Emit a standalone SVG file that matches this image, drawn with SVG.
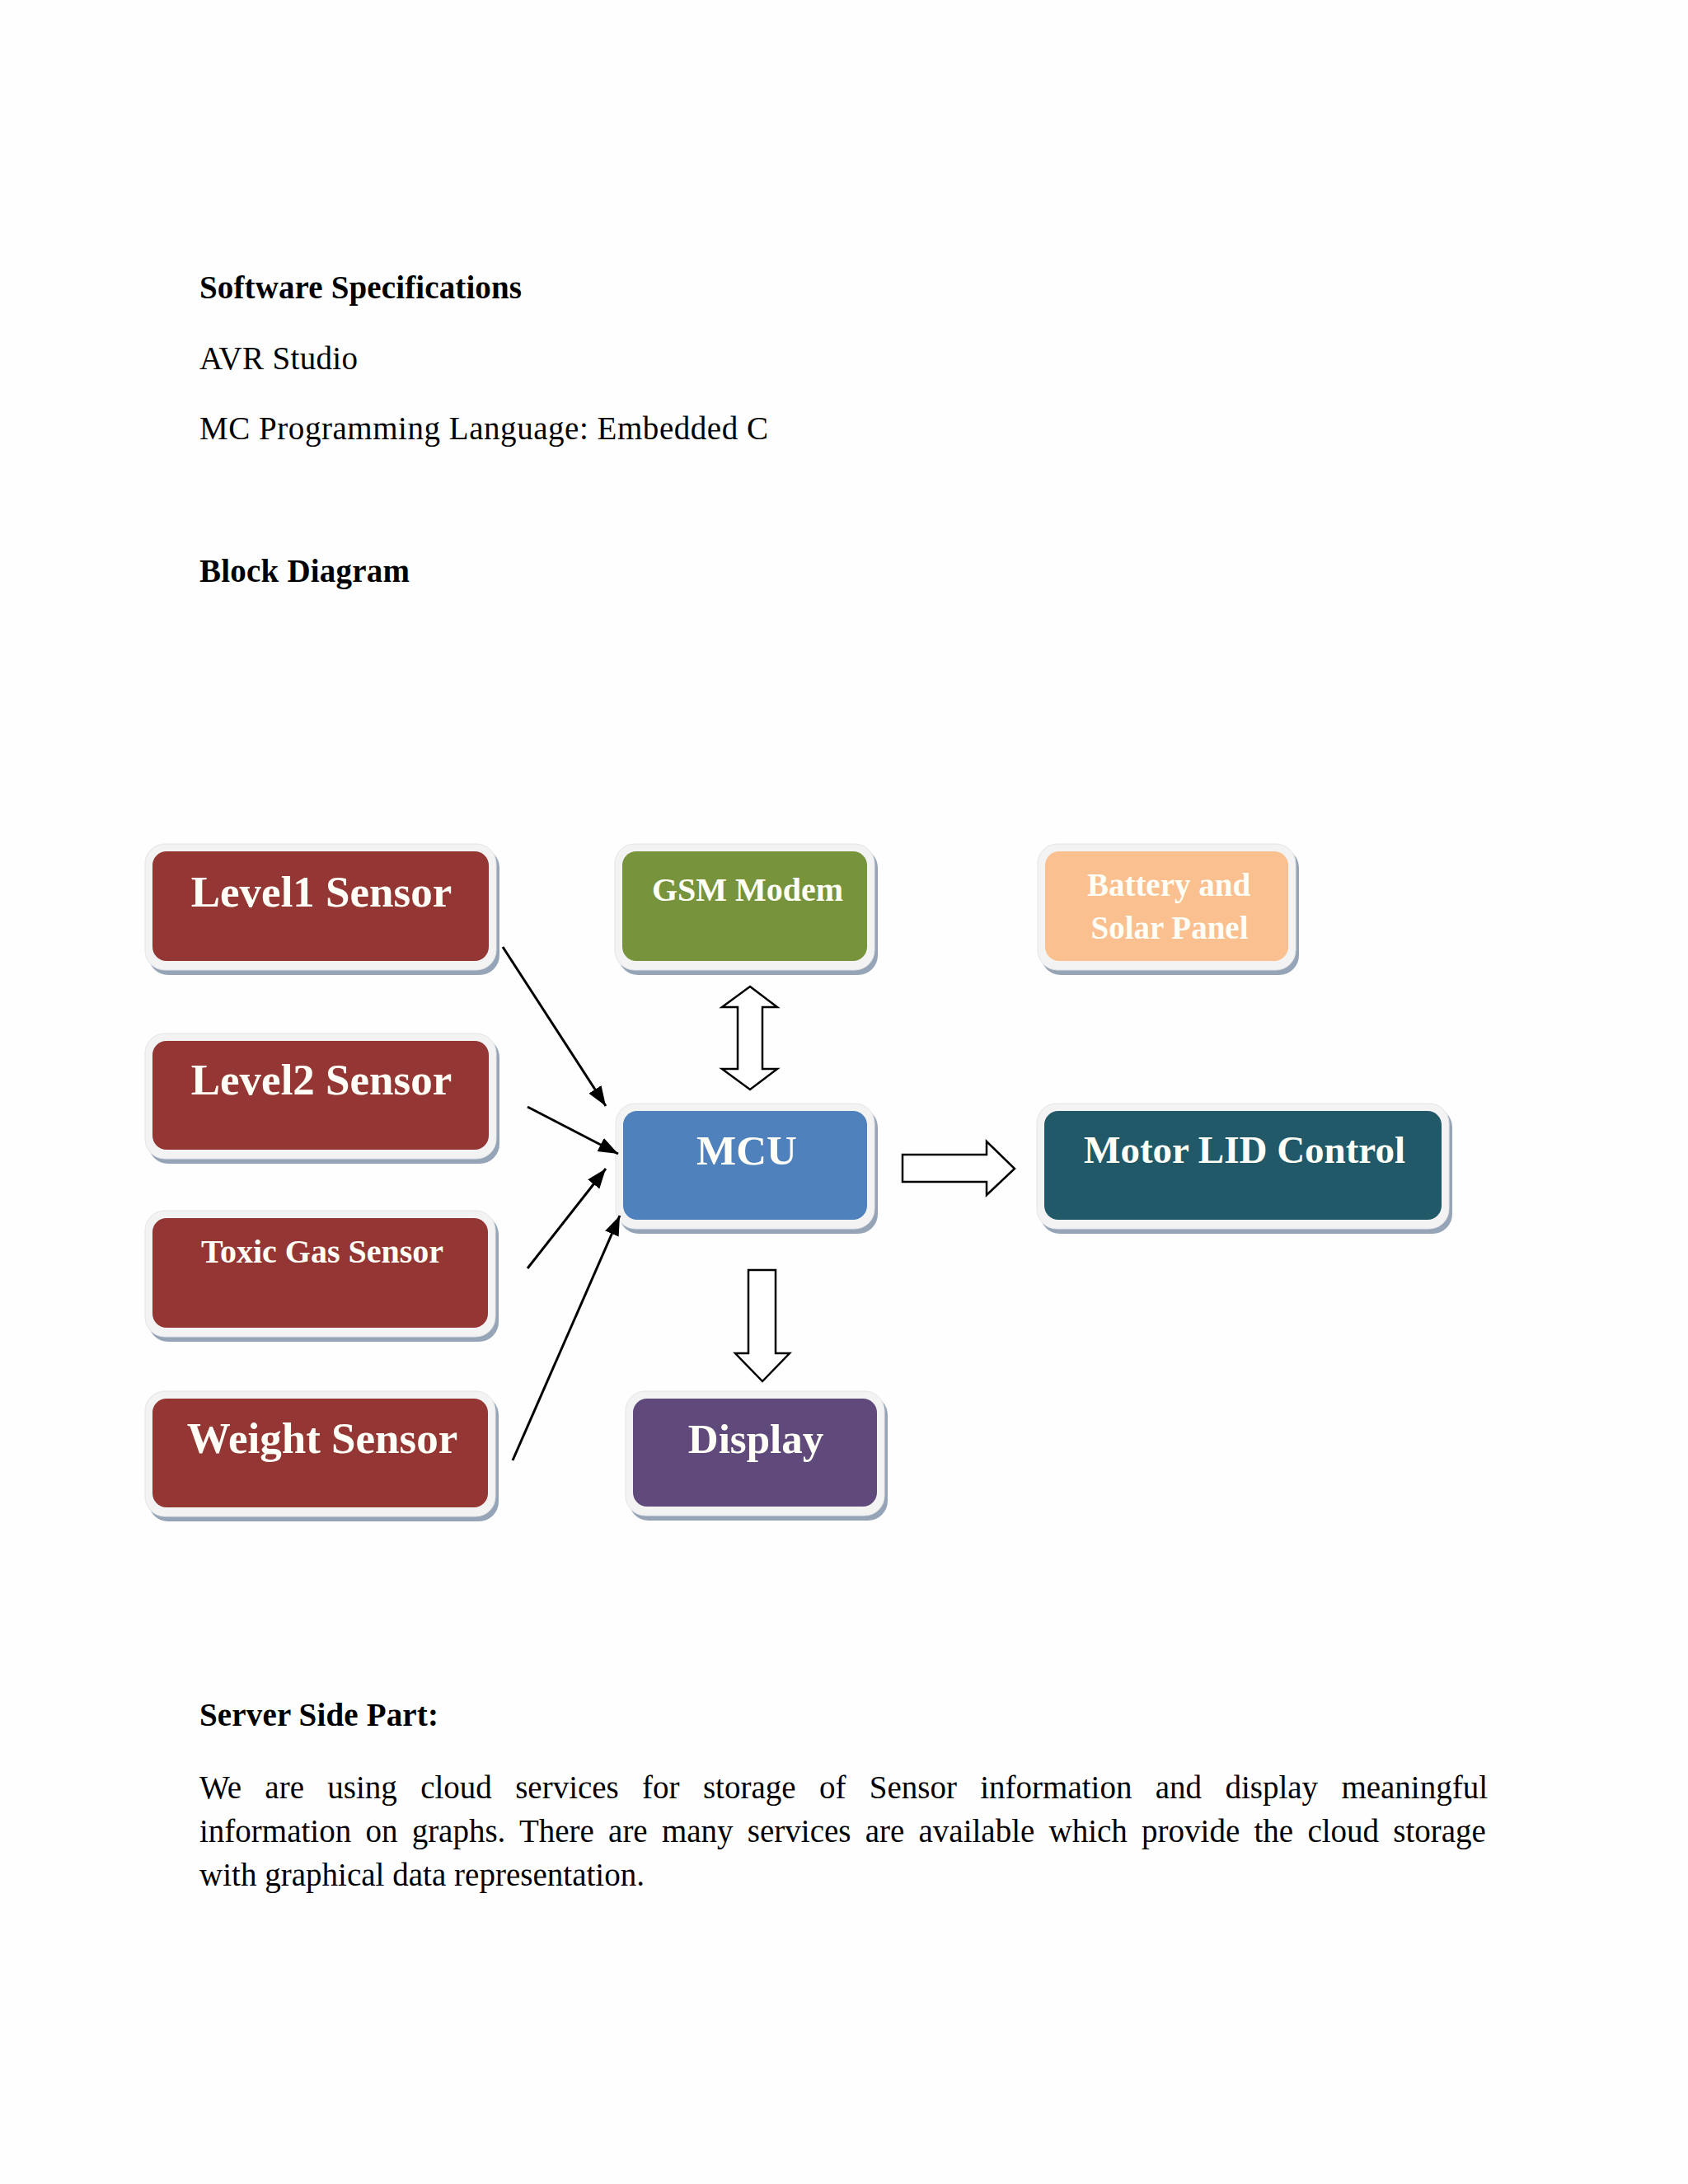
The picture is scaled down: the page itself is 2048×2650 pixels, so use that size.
<svg xmlns="http://www.w3.org/2000/svg" width="2048" height="2650" viewBox="0 0 2048 2650">
<style>
.doc{font-family:"Liberation Serif","Times New Roman",serif;fill:#000;font-size:39px}
.b{font-weight:bold}
.lbl{font-family:"Liberation Serif","Times New Roman",serif;font-weight:bold;fill:#fffff8;text-anchor:middle}
.outer{fill:#f3f3f3;stroke:#e4e4e8;stroke-width:1}
.shadow{fill:#95a4b6}
.conn{stroke:#000;stroke-width:3;fill:none}
.blk{fill:#fff;stroke:#000;stroke-width:2.5;stroke-linejoin:miter}
</style>
<defs>
<marker id="ah" markerUnits="userSpaceOnUse" markerWidth="26" markerHeight="20" refX="24" refY="9" orient="auto">
<path d="M0,0 L24,9 L0,18 Z" fill="#000"/>
</marker>
</defs>
<rect width="2048" height="2650" fill="#fefefe"/>

<g id="text-top">
<text class="doc b" x="242" y="362" textLength="391" lengthAdjust="spacing">Software  Specifications</text>
<text class="doc" x="242" y="448" textLength="192" lengthAdjust="spacing">AVR Studio</text>
<text class="doc" x="242" y="533" textLength="690" lengthAdjust="spacing">MC Programming  Language:  Embedded C</text>
<text class="doc b" x="242" y="706" textLength="255" lengthAdjust="spacing">Block Diagram</text>
</g>

<g id="level1">
<rect class="shadow" x="180" y="1029" width="426" height="154" rx="24"/>
<rect class="outer" x="176" y="1024" width="426" height="153" rx="24"/>
<rect x="185" y="1033" width="408" height="133" rx="17" fill="#943634"/>
<text class="lbl" x="390" y="1100" font-size="53">Level1 Sensor</text>
</g>
<g id="level2">
<rect class="shadow" x="180" y="1259" width="426" height="153" rx="24"/>
<rect class="outer" x="176" y="1254" width="426" height="152" rx="24"/>
<rect x="185" y="1263" width="408" height="132" rx="17" fill="#943634"/>
<text class="lbl" x="390" y="1328" font-size="53">Level2 Sensor</text>
</g>
<g id="toxic">
<rect class="shadow" x="180" y="1474" width="425" height="154" rx="24"/>
<rect class="outer" x="176" y="1469" width="425" height="153" rx="24"/>
<rect x="185" y="1478" width="407" height="133" rx="17" fill="#943634"/>
<text class="lbl" x="391" y="1532" font-size="40">Toxic Gas Sensor</text>
</g>
<g id="weight">
<rect class="shadow" x="180" y="1693" width="425" height="153" rx="24"/>
<rect class="outer" x="176" y="1688" width="425" height="152" rx="24"/>
<rect x="185" y="1697" width="407" height="132" rx="17" fill="#943634"/>
<text class="lbl" x="391" y="1763" font-size="53">Weight Sensor</text>
</g>
<g id="gsm">
<rect class="shadow" x="750" y="1029" width="315" height="154" rx="24"/>
<rect class="outer" x="746" y="1024" width="315" height="153" rx="24"/>
<rect x="755" y="1033" width="297" height="133" rx="17" fill="#77933c"/>
<text class="lbl" x="907" y="1093" font-size="40">GSM Modem</text>
</g>
<g id="battery">
<rect class="shadow" x="1263" y="1029" width="313" height="154" rx="24"/>
<rect class="outer" x="1259" y="1024" width="313" height="153" rx="24"/>
<rect x="1268" y="1033" width="295" height="133" rx="17" fill="#fac090"/>
<text class="lbl" x="1418" y="1087" font-size="39">Battery and</text>
<text class="lbl" x="1419" y="1139" font-size="39">Solar Panel</text>
</g>
<g id="mcu">
<rect class="shadow" x="751" y="1344" width="314" height="153" rx="24"/>
<rect class="outer" x="747" y="1339" width="314" height="152" rx="24"/>
<rect x="756" y="1348" width="296" height="132" rx="17" fill="#4f81bd"/>
<text class="lbl" x="906" y="1413" font-size="51">MCU</text>
</g>
<g id="motor">
<rect class="shadow" x="1262" y="1344" width="500" height="153" rx="24"/>
<rect class="outer" x="1258" y="1339" width="500" height="152" rx="24"/>
<rect x="1267" y="1348" width="482" height="132" rx="17" fill="#215968"/>
<text class="lbl" x="1510" y="1411" font-size="47">Motor LID Control</text>
</g>
<g id="display">
<rect class="shadow" x="763" y="1693" width="314" height="152" rx="24"/>
<rect class="outer" x="759" y="1688" width="314" height="151" rx="24"/>
<rect x="768" y="1697" width="296" height="131" rx="17" fill="#604a7b"/>
<text class="lbl" x="917" y="1763" font-size="51">Display</text>
</g>

<g id="connectors">
<line class="conn" x1="610" y1="1149" x2="735" y2="1342" marker-end="url(#ah)"/>
<line class="conn" x1="640" y1="1343" x2="750" y2="1400" marker-end="url(#ah)"/>
<line class="conn" x1="640" y1="1539" x2="735" y2="1418" marker-end="url(#ah)"/>
<line class="conn" x1="622" y1="1772" x2="752" y2="1475" marker-end="url(#ah)"/>
<polygon class="blk" points="910,1197 943,1222 925,1222 925,1297 943,1297 910,1322 876,1297 895,1297 895,1222 876,1222"/>
<polygon class="blk" points="1095,1401 1197,1401 1197,1385 1231,1418 1197,1450 1197,1434 1095,1434"/>
<polygon class="blk" points="908,1541 941,1541 941,1642 958,1642 925,1676 892,1642 908,1642"/>
</g>

<g id="text-bottom">
<text class="doc b" x="242" y="2094" textLength="290" lengthAdjust="spacing">Server Side  Part:</text>
<text class="doc" x="242" y="2182" word-spacing="18.6">We are using cloud services for storage of Sensor information and display meaningful</text>
<text class="doc" x="242" y="2235" word-spacing="7.5">information on graphs. There are many services are available which provide the cloud storage</text>
<text class="doc" x="242" y="2288" textLength="540" lengthAdjust="spacing">with graphical  data representation.</text>
</g>
</svg>
